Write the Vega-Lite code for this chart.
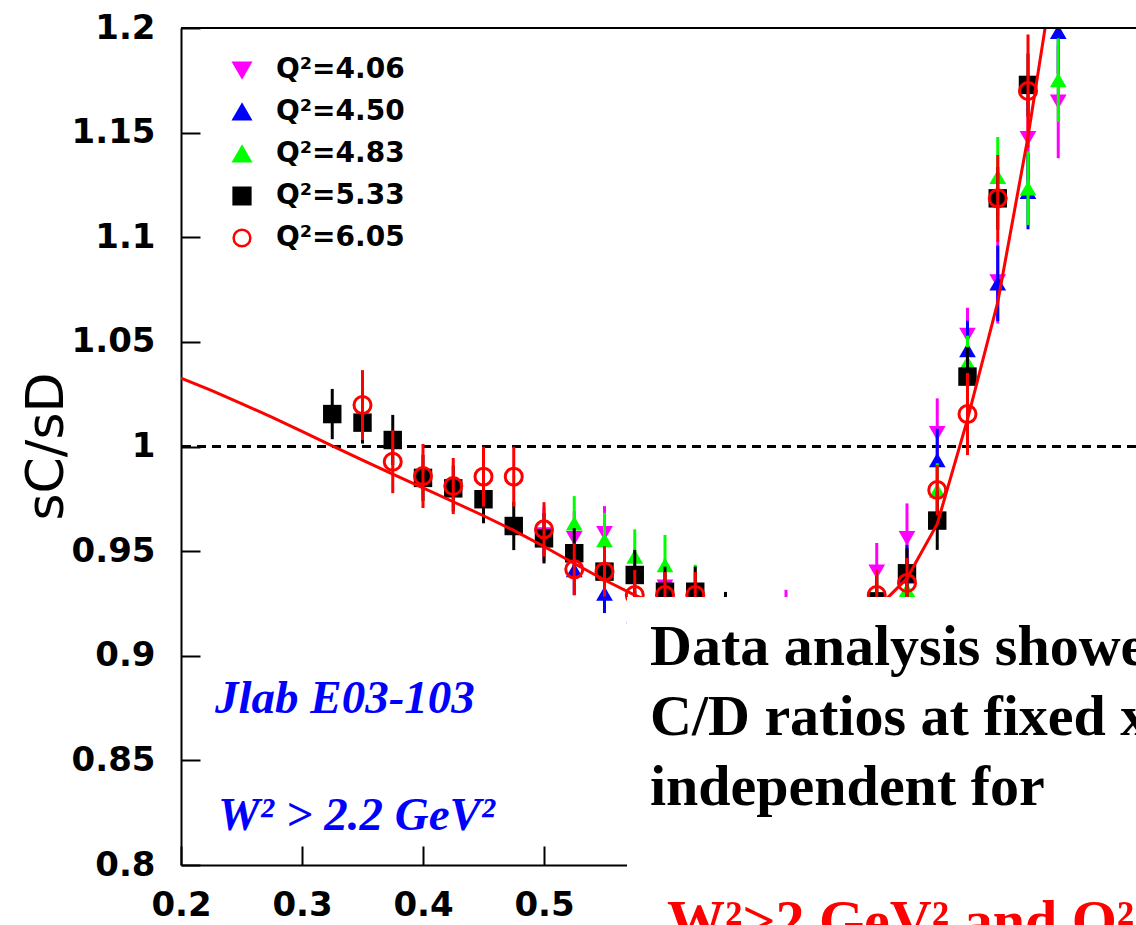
{
  "$schema": "https://vega.github.io/schema/vega-lite/v6.json",
  "width": 955,
  "height": 837,
  "autosize": {"type": "none"},
  "padding": {"left": 181, "top": 28, "right": 0, "bottom": 60},
  "background": "white",
  "config": {
    "view": {"stroke": null},
    "axis": {
      "grid": false,
      "domainColor": "black",
      "domainWidth": 2,
      "tickColor": "black",
      "tickWidth": 2,
      "tickSize": -19,
      "labelFont": "DejaVu Sans",
      "labelFontWeight": "bold",
      "labelFontSize": 34,
      "labelColor": "black",
      "labelFlush": false,
      "labelOverlap": false
    },
    "axisX": {"labelPadding": 42},
    "axisY": {
      "labelPadding": 45,
      "titleFont": "DejaVu Sans",
      "titleFontWeight": "normal",
      "titleFontSize": 52,
      "titleColor": "black",
      "titleX": -135,
      "titleY": 418,
      "titleAngle": -90,
      "titleAlign": "center",
      "titleBaseline": "middle"
    }
  },
  "datasets": {
    "one": [{"k": 1}],
    "pts": [
      {"s": "Q²=4.06", "x": 0.5, "y": 0.958, "lo": 0.945, "hi": 0.971},
      {"s": "Q²=4.06", "x": 0.525, "y": 0.9561, "lo": 0.9431, "hi": 0.9691},
      {"s": "Q²=4.06", "x": 0.55, "y": 0.9585, "lo": 0.9455, "hi": 0.9715},
      {"s": "Q²=4.06", "x": 0.6, "y": 0.933, "lo": 0.92, "hi": 0.946},
      {"s": "Q²=4.06", "x": 0.7, "y": 0.9175, "lo": 0.9035, "hi": 0.9315},
      {"s": "Q²=4.06", "x": 0.775, "y": 0.9402, "lo": 0.9265, "hi": 0.9539},
      {"s": "Q²=4.06", "x": 0.8, "y": 0.9561, "lo": 0.9394, "hi": 0.9728},
      {"s": "Q²=4.06", "x": 0.825, "y": 1.0063, "lo": 0.9896, "hi": 1.023},
      {"s": "Q²=4.06", "x": 0.85, "y": 1.0533, "lo": 1.0403, "hi": 1.0663},
      {"s": "Q²=4.06", "x": 0.875, "y": 1.0788, "lo": 1.0588, "hi": 1.0988},
      {"s": "Q²=4.06", "x": 0.9, "y": 1.1473, "lo": 1.1273, "hi": 1.1673},
      {"s": "Q²=4.06", "x": 0.925, "y": 1.1648, "lo": 1.1378, "hi": 1.1918},
      {"s": "Q²=4.50", "x": 0.525, "y": 0.941, "lo": 0.929, "hi": 0.953},
      {"s": "Q²=4.50", "x": 0.55, "y": 0.9298, "lo": 0.9204, "hi": 0.9392},
      {"s": "Q²=4.50", "x": 0.575, "y": 0.919, "lo": 0.907, "hi": 0.931},
      {"s": "Q²=4.50", "x": 0.8, "y": 0.938, "lo": 0.923, "hi": 0.953},
      {"s": "Q²=4.50", "x": 0.825, "y": 0.9935, "lo": 0.9785, "hi": 1.0085},
      {"s": "Q²=4.50", "x": 0.85, "y": 1.0461, "lo": 1.0321, "hi": 1.0601},
      {"s": "Q²=4.50", "x": 0.875, "y": 1.078, "lo": 1.06, "hi": 1.096},
      {"s": "Q²=4.50", "x": 0.9, "y": 1.1218, "lo": 1.1038, "hi": 1.1398},
      {"s": "Q²=4.50", "x": 0.925, "y": 1.1982, "lo": 1.1782, "hi": 1.2182},
      {"s": "Q²=4.83", "x": 0.525, "y": 0.9633, "lo": 0.9503, "hi": 0.9763},
      {"s": "Q²=4.83", "x": 0.55, "y": 0.9553, "lo": 0.9423, "hi": 0.9683},
      {"s": "Q²=4.83", "x": 0.575, "y": 0.9474, "lo": 0.9344, "hi": 0.9604},
      {"s": "Q²=4.83", "x": 0.6, "y": 0.9434, "lo": 0.9291, "hi": 0.9577},
      {"s": "Q²=4.83", "x": 0.625, "y": 0.9305, "lo": 0.9175, "hi": 0.9435},
      {"s": "Q²=4.83", "x": 0.775, "y": 0.928, "lo": 0.916, "hi": 0.94},
      {"s": "Q²=4.83", "x": 0.8, "y": 0.9314, "lo": 0.9194, "hi": 0.9434},
      {"s": "Q²=4.83", "x": 0.825, "y": 0.979, "lo": 0.966, "hi": 0.992},
      {"s": "Q²=4.83", "x": 0.85, "y": 1.04, "lo": 1.027, "hi": 1.053},
      {"s": "Q²=4.83", "x": 0.875, "y": 1.1289, "lo": 1.1099, "hi": 1.1479},
      {"s": "Q²=4.83", "x": 0.9, "y": 1.1234, "lo": 1.1058, "hi": 1.141},
      {"s": "Q²=4.83", "x": 0.925, "y": 1.1751, "lo": 1.1551, "hi": 1.1951},
      {"s": "Q²=5.33", "x": 0.325, "y": 1.0155, "lo": 1.0035, "hi": 1.0275},
      {"s": "Q²=5.33", "x": 0.35, "y": 1.0114, "lo": 1.0014, "hi": 1.0214},
      {"s": "Q²=5.33", "x": 0.375, "y": 1.0031, "lo": 0.9911, "hi": 1.0151},
      {"s": "Q²=5.33", "x": 0.4, "y": 0.985, "lo": 0.974, "hi": 0.996},
      {"s": "Q²=5.33", "x": 0.425, "y": 0.98, "lo": 0.969, "hi": 0.991},
      {"s": "Q²=5.33", "x": 0.45, "y": 0.9748, "lo": 0.9633, "hi": 0.9863},
      {"s": "Q²=5.33", "x": 0.475, "y": 0.962, "lo": 0.9505, "hi": 0.9735},
      {"s": "Q²=5.33", "x": 0.5, "y": 0.9561, "lo": 0.9441, "hi": 0.9681},
      {"s": "Q²=5.33", "x": 0.525, "y": 0.949, "lo": 0.937, "hi": 0.961},
      {"s": "Q²=5.33", "x": 0.55, "y": 0.9402, "lo": 0.9282, "hi": 0.9522},
      {"s": "Q²=5.33", "x": 0.575, "y": 0.9386, "lo": 0.9266, "hi": 0.9506},
      {"s": "Q²=5.33", "x": 0.6, "y": 0.9306, "lo": 0.9186, "hi": 0.9426},
      {"s": "Q²=5.33", "x": 0.625, "y": 0.9306, "lo": 0.9186, "hi": 0.9426},
      {"s": "Q²=5.33", "x": 0.65, "y": 0.9185, "lo": 0.9065, "hi": 0.9305},
      {"s": "Q²=5.33", "x": 0.775, "y": 0.926, "lo": 0.914, "hi": 0.938},
      {"s": "Q²=5.33", "x": 0.8, "y": 0.9394, "lo": 0.9274, "hi": 0.9514},
      {"s": "Q²=5.33", "x": 0.825, "y": 0.9646, "lo": 0.9506, "hi": 0.9786},
      {"s": "Q²=5.33", "x": 0.85, "y": 1.0334, "lo": 1.0194, "hi": 1.0474},
      {"s": "Q²=5.33", "x": 0.875, "y": 1.1186, "lo": 1.1036, "hi": 1.1336},
      {"s": "Q²=5.33", "x": 0.9, "y": 1.1728, "lo": 1.1578, "hi": 1.1878},
      {"s": "Q²=6.05", "x": 0.35, "y": 1.0198, "lo": 1.0031, "hi": 1.0365},
      {"s": "Q²=6.05", "x": 0.375, "y": 0.9927, "lo": 0.9777, "hi": 1.0077},
      {"s": "Q²=6.05", "x": 0.4, "y": 0.9859, "lo": 0.9706, "hi": 1.0012},
      {"s": "Q²=6.05", "x": 0.425, "y": 0.9811, "lo": 0.9677, "hi": 0.9945},
      {"s": "Q²=6.05", "x": 0.45, "y": 0.9856, "lo": 0.9713, "hi": 0.9999},
      {"s": "Q²=6.05", "x": 0.475, "y": 0.9856, "lo": 0.9713, "hi": 0.9999},
      {"s": "Q²=6.05", "x": 0.5, "y": 0.9604, "lo": 0.9474, "hi": 0.9734},
      {"s": "Q²=6.05", "x": 0.525, "y": 0.9413, "lo": 0.9289, "hi": 0.9537},
      {"s": "Q²=6.05", "x": 0.55, "y": 0.9402, "lo": 0.9282, "hi": 0.9522},
      {"s": "Q²=6.05", "x": 0.575, "y": 0.929, "lo": 0.917, "hi": 0.941},
      {"s": "Q²=6.05", "x": 0.6, "y": 0.929, "lo": 0.918, "hi": 0.94},
      {"s": "Q²=6.05", "x": 0.625, "y": 0.929, "lo": 0.918, "hi": 0.94},
      {"s": "Q²=6.05", "x": 0.775, "y": 0.929, "lo": 0.917, "hi": 0.941},
      {"s": "Q²=6.05", "x": 0.8, "y": 0.9348, "lo": 0.9228, "hi": 0.9468},
      {"s": "Q²=6.05", "x": 0.825, "y": 0.9792, "lo": 0.9672, "hi": 0.9912},
      {"s": "Q²=6.05", "x": 0.85, "y": 1.0155, "lo": 0.9959, "hi": 1.0351},
      {"s": "Q²=6.05", "x": 0.875, "y": 1.1186, "lo": 1.0979, "hi": 1.1393},
      {"s": "Q²=6.05", "x": 0.9, "y": 1.1699, "lo": 1.1429, "hi": 1.1969}
    ],
    "curve": [
      {"x": 0.2, "y": 1.0327}, {"x": 0.225, "y": 1.0268}, {"x": 0.25, "y": 1.0205},
      {"x": 0.275, "y": 1.014}, {"x": 0.3, "y": 1.0072}, {"x": 0.325, "y": 1.0003},
      {"x": 0.35, "y": 0.9935}, {"x": 0.375, "y": 0.9868}, {"x": 0.4, "y": 0.9802},
      {"x": 0.425, "y": 0.9736}, {"x": 0.45, "y": 0.9669}, {"x": 0.475, "y": 0.9599},
      {"x": 0.5, "y": 0.9522}, {"x": 0.525, "y": 0.9441}, {"x": 0.55, "y": 0.9362},
      {"x": 0.575, "y": 0.929}, {"x": 0.6, "y": 0.923}, {"x": 0.625, "y": 0.918},
      {"x": 0.65, "y": 0.914}, {"x": 0.675, "y": 0.9115}, {"x": 0.7, "y": 0.9105},
      {"x": 0.725, "y": 0.9115}, {"x": 0.75, "y": 0.9145}, {"x": 0.775, "y": 0.9225},
      {"x": 0.8, "y": 0.937}, {"x": 0.825, "y": 0.963}, {"x": 0.85, "y": 1.013},
      {"x": 0.875, "y": 1.069}, {"x": 0.9, "y": 1.148}, {"x": 0.925, "y": 1.24}
    ]
  },
  "layer": [
    {
      "data": {"name": "one"},
      "mark": {"type": "rule", "color": "black", "strokeWidth": 3, "strokeDash": [9, 6]},
      "encoding": {
        "y": {"datum": 1, "type": "quantitative", "scale": {"domain": [0.8, 1.2], "nice": false, "zero": false}, "title": "sC/sD",
          "axis": {"values": [0.8, 0.85, 0.9, 0.95, 1, 1.05, 1.1, 1.15, 1.2], "format": "~g"}}
      }
    },
    {
      "data": {"name": "pts"},
      "transform": [{"filter": "datum.s === 'Q²=4.06'"}],
      "mark": {"type": "rule", "color": "#ff00ff", "strokeWidth": 3, "clip": true},
      "encoding": {
        "x": {"field": "x", "type": "quantitative", "scale": {"domain": [0.2, 0.98926], "nice": false, "zero": false}, "title": null,
          "axis": {"values": [0.2, 0.3, 0.4, 0.5], "format": "~g"}},
        "y": {"field": "lo", "type": "quantitative", "title": "sC/sD"},
        "y2": {"field": "hi"}
      }
    },
    {
      "data": {"name": "pts"},
      "transform": [{"filter": "datum.s === 'Q²=4.06'"}],
      "mark": {"type": "point", "size": 280, "strokeWidth": 0, "opacity": 1, "clip": true},
      "encoding": {
        "x": {"field": "x", "type": "quantitative", "title": null},
        "y": {"field": "y", "type": "quantitative", "title": "sC/sD"},
        "shape": {"field": "s", "type": "nominal", "scale": {"domain": ["Q²=4.06", "Q²=4.50", "Q²=4.83", "Q²=5.33", "Q²=6.05"], "range": ["triangle-down", "triangle-up", "triangle-up", "square", "circle"]},
          "legend": {"orient": "none", "legendX": 47, "legendY": 28, "title": null, "padding": 0, "labelFont": "DejaVu Sans", "labelFontWeight": "bold", "labelFontSize": 28, "labelColor": "black", "labelOffset": 20, "symbolSize": 280, "symbolStrokeWidth": 2.5, "rowPadding": 14, "labelLimit": 0}},
        "fill": {"field": "s", "type": "nominal", "scale": {"domain": ["Q²=4.06", "Q²=4.50", "Q²=4.83", "Q²=5.33", "Q²=6.05"], "range": ["#ff00ff", "#0000ff", "#00ff00", "#000000", "transparent"]},
          "legend": {"orient": "none", "legendX": 47, "legendY": 28, "title": null, "padding": 0, "labelFont": "DejaVu Sans", "labelFontWeight": "bold", "labelFontSize": 28, "labelColor": "black", "labelOffset": 20, "symbolSize": 280, "symbolStrokeWidth": 2.5, "rowPadding": 14, "labelLimit": 0}},
        "stroke": {"field": "s", "type": "nominal", "scale": {"domain": ["Q²=4.06", "Q²=4.50", "Q²=4.83", "Q²=5.33", "Q²=6.05"], "range": ["#ff00ff", "#0000ff", "#00ff00", "#000000", "#ff0000"]},
          "legend": {"orient": "none", "legendX": 47, "legendY": 28, "title": null, "padding": 0, "labelFont": "DejaVu Sans", "labelFontWeight": "bold", "labelFontSize": 28, "labelColor": "black", "labelOffset": 20, "symbolSize": 280, "symbolStrokeWidth": 2.5, "rowPadding": 14, "labelLimit": 0}}
      }
    },
    {
      "data": {"name": "pts"},
      "transform": [{"filter": "datum.s === 'Q²=4.50'"}],
      "mark": {"type": "rule", "color": "#0000ff", "strokeWidth": 3, "clip": true},
      "encoding": {
        "x": {"field": "x", "type": "quantitative", "title": null},
        "y": {"field": "lo", "type": "quantitative", "title": "sC/sD"},
        "y2": {"field": "hi"}
      }
    },
    {
      "data": {"name": "pts"},
      "transform": [{"filter": "datum.s === 'Q²=4.50'"}],
      "mark": {"type": "point", "size": 280, "strokeWidth": 0, "opacity": 1, "clip": true},
      "encoding": {
        "x": {"field": "x", "type": "quantitative", "title": null},
        "y": {"field": "y", "type": "quantitative", "title": "sC/sD"},
        "shape": {"field": "s", "type": "nominal"},
        "fill": {"field": "s", "type": "nominal"},
        "stroke": {"field": "s", "type": "nominal"}
      }
    },
    {
      "data": {"name": "pts"},
      "transform": [{"filter": "datum.s === 'Q²=4.83'"}],
      "mark": {"type": "rule", "color": "#00ff00", "strokeWidth": 3, "clip": true},
      "encoding": {
        "x": {"field": "x", "type": "quantitative", "title": null},
        "y": {"field": "lo", "type": "quantitative", "title": "sC/sD"},
        "y2": {"field": "hi"}
      }
    },
    {
      "data": {"name": "pts"},
      "transform": [{"filter": "datum.s === 'Q²=4.83'"}],
      "mark": {"type": "point", "size": 280, "strokeWidth": 0, "opacity": 1, "clip": true},
      "encoding": {
        "x": {"field": "x", "type": "quantitative", "title": null},
        "y": {"field": "y", "type": "quantitative", "title": "sC/sD"},
        "shape": {"field": "s", "type": "nominal"},
        "fill": {"field": "s", "type": "nominal"},
        "stroke": {"field": "s", "type": "nominal"}
      }
    },
    {
      "data": {"name": "pts"},
      "transform": [{"filter": "datum.s === 'Q²=5.33'"}],
      "mark": {"type": "rule", "color": "#000000", "strokeWidth": 3, "clip": true},
      "encoding": {
        "x": {"field": "x", "type": "quantitative", "title": null},
        "y": {"field": "lo", "type": "quantitative", "title": "sC/sD"},
        "y2": {"field": "hi"}
      }
    },
    {
      "data": {"name": "pts"},
      "transform": [{"filter": "datum.s === 'Q²=5.33'"}],
      "mark": {"type": "point", "size": 340, "strokeWidth": 0, "opacity": 1, "clip": true},
      "encoding": {
        "x": {"field": "x", "type": "quantitative", "title": null},
        "y": {"field": "y", "type": "quantitative", "title": "sC/sD"},
        "shape": {"field": "s", "type": "nominal"},
        "fill": {"field": "s", "type": "nominal"},
        "stroke": {"field": "s", "type": "nominal"}
      }
    },
    {
      "data": {"name": "pts"},
      "transform": [{"filter": "datum.s === 'Q²=6.05'"}],
      "mark": {"type": "rule", "color": "#ff0000", "strokeWidth": 3, "clip": true},
      "encoding": {
        "x": {"field": "x", "type": "quantitative", "title": null},
        "y": {"field": "lo", "type": "quantitative", "title": "sC/sD"},
        "y2": {"field": "hi"}
      }
    },
    {
      "data": {"name": "pts"},
      "transform": [{"filter": "datum.s === 'Q²=6.05'"}],
      "mark": {"type": "point", "size": 289, "strokeWidth": 3, "opacity": 1, "clip": true},
      "encoding": {
        "x": {"field": "x", "type": "quantitative", "title": null},
        "y": {"field": "y", "type": "quantitative", "title": "sC/sD"},
        "shape": {"field": "s", "type": "nominal"},
        "fill": {"field": "s", "type": "nominal"},
        "stroke": {"field": "s", "type": "nominal"}
      }
    },
    {
      "data": {"name": "curve"},
      "mark": {"type": "line", "color": "#ff0000", "strokeWidth": 3, "clip": true},
      "encoding": {
        "x": {"field": "x", "type": "quantitative", "title": null},
        "y": {"field": "y", "type": "quantitative", "title": "sC/sD"}
      }
    },
    {
      "data": {"name": "one"},
      "mark": {"type": "rect", "color": "white", "opacity": 1},
      "encoding": {
        "x": {"datum": 0.5686, "type": "quantitative"},
        "x2": {"datum": 1.1},
        "y": {"datum": 0.9281, "type": "quantitative"},
        "y2": {"datum": 0.7}
      }
    },
    {
      "data": {"name": "one"},
      "mark": {"type": "rule", "color": "black", "strokeWidth": 2},
      "encoding": {"y": {"datum": 1.2, "type": "quantitative"}}
    },
    {
      "data": {"name": "one"},
      "mark": {"type": "text", "text": "Jlab E03-103", "font": "Liberation Serif", "fontStyle": "italic", "fontWeight": "bold", "fontSize": 47, "color": "#0000ff", "align": "left", "baseline": "alphabetic"},
      "encoding": {"x": {"datum": 0.2281, "type": "quantitative"}, "y": {"datum": 0.8727, "type": "quantitative"}}
    },
    {
      "data": {"name": "one"},
      "mark": {"type": "text", "text": "W² > 2.2 GeV²", "font": "Liberation Serif", "fontStyle": "italic", "fontWeight": "bold", "fontSize": 47, "color": "#0000ff", "align": "left", "baseline": "alphabetic"},
      "encoding": {"x": {"datum": 0.2306, "type": "quantitative"}, "y": {"datum": 0.8167, "type": "quantitative"}}
    },
    {
      "data": {"name": "one"},
      "mark": {"type": "text", "text": ["Data analysis showed that", "C/D ratios at fixed x are Q²", "independent for"], "font": "Liberation Serif", "fontWeight": "bold", "fontSize": 58, "lineHeight": 70, "color": "black", "align": "left", "baseline": "alphabetic"},
      "encoding": {"x": {"datum": 0.5876, "type": "quantitative"}, "y": {"datum": 0.8956, "type": "quantitative"}}
    },
    {
      "data": {"name": "one"},
      "mark": {"type": "text", "text": "W²>2 GeV² and Q²>3 GeV²", "font": "Liberation Serif", "fontWeight": "bold", "fontSize": 58, "color": "#ff0000", "align": "left", "baseline": "alphabetic"},
      "encoding": {"x": {"datum": 0.6017, "type": "quantitative"}, "y": {"datum": 0.7642, "type": "quantitative"}}
    }
  ]
}
